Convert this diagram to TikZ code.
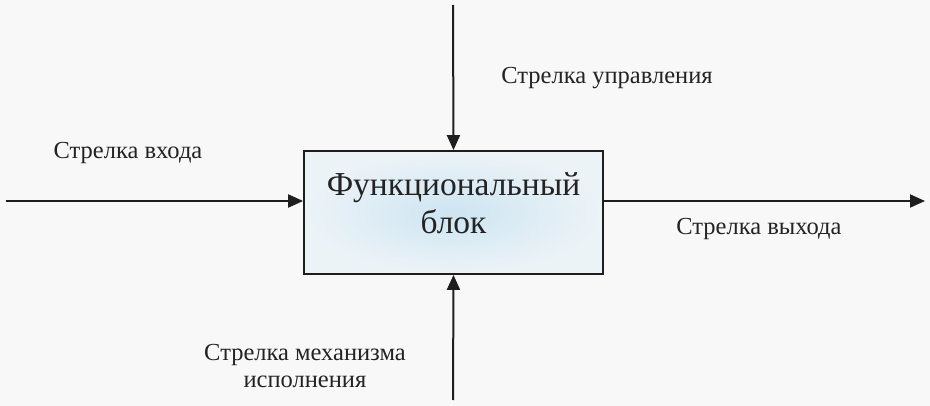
\documentclass[tikz,border=0pt]{standalone}
\usepackage{fontspec}
\setmainfont{Liberation Serif}
\usetikzlibrary{arrows.meta,shadings}
\definecolor{bgc}{RGB}{248,248,248}
\definecolor{linec}{RGB}{30,30,30}
\definecolor{boxin}{RGB}{205,229,242}
\definecolor{boxout}{RGB}{236,243,247}
\definecolor{txt}{RGB}{35,35,35}
\tikzset{
  conn/.style={draw=linec,line width=2pt,-{Triangle[length=15pt,width=13pt]}},
  lbl/.style={font=\fontsize{24.5}{27}\selectfont,text=txt,inner sep=0pt,align=center},
  fblock/.style={draw=linec,line width=1.8pt,minimum width=299pt,minimum height=123pt,inner sep=0pt,
    inner color=boxin,outer color=boxout},
  fbtext/.style={text=txt,inner sep=0pt,align=center,font=\fontsize{33.5}{38}\selectfont}
}
\begin{document}
\begin{tikzpicture}[x=1pt,y=-1pt]
\fill[bgc] (0,0) rectangle (930,406);
\useasboundingbox (0,0) rectangle (930,406);
\node[fblock] (box) at (453.5,212.5) {};
\node[fbtext] (boxtext) at ([yshift=9pt]box.center) {Функциональный\\блок};
\coordinate (inL) at (6,201);
\coordinate (outR) at (925,201);
\coordinate (ctrlT) at (453,5);
\coordinate (mechB) at (453,400);
\draw[conn] (inL) -- (inL -| box.west);
\draw[conn] (outR -| box.east) -- (outR);
\draw[conn] (ctrlT) -- (box.north);
\draw[conn] (mechB) -- (box.south);
\node[lbl] (lc) at (607,78) {Стрелка управления};
\node[lbl] (li) at (128,153) {Стрелка входа};
\node[lbl] (lo) at (759,229) {Стрелка выхода};
\node[lbl] (lm) at (305,366) {Стрелка механизма\\исполнения};
\end{tikzpicture}
\end{document}
